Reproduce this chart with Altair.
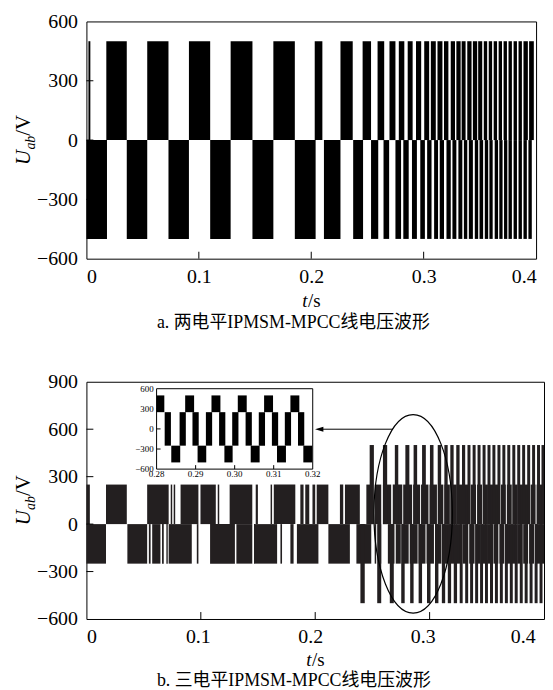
import altair as alt
import pandas as pd

# ---------------- data (times in ms, voltages in V) ----------------
X_TICKS = [0, 0.1, 0.2, 0.3, 0.4]
INNER_X = [0.1, 0.2, 0.3]
A_Y_TICKS = [-600, -300, 0, 300, 600]
A_INNER_Y = [-300, 0, 300]
B_Y_TICKS = [-600, -300, 0, 300, 600, 900]
B_INNER_Y = [-300, 0, 300, 600]

# panel a: two-level, blocks switching 0 <-> +500 / 0 <-> -500
A_LEVEL = 500
a_pos_start = [1.8, 17.7, 54.1, 91.2, 128.3, 166.3, 203.1, 226.0, 245.7, 259.0,
               269.6, 277.9, 285.8, 293.2, 300.5, 306.4, 312.3, 318.1, 324.1, 329.1,
               333.8, 338.8, 343.8, 348.5, 353.5, 357.9, 362.3, 366.7, 371.1, 375.5,
               380.0, 384.4, 388.8, 393.8]
a_pos_end = [3.5, 35.9, 73.0, 110.1, 147.7, 185.4, 209.9, 236.9, 253.2, 264.9,
             274.9, 282.8, 290.2, 297.8, 304.9, 310.8, 316.7, 322.0, 327.9, 332.9,
             337.3, 342.6, 347.6, 352.1, 356.5, 360.9, 365.3, 369.7, 374.1, 378.5,
             383.0, 387.4, 392.7, 398.0]
a_neg_start = [0.0, 35.9, 73.0, 110.1, 147.7, 185.4, 211.3, 237.3, 253.2, 264.3,
               274.9, 281.9, 289.6, 297.0, 303.1, 309.3, 314.3, 320.3, 325.6, 330.9,
               335.8, 340.2, 345.5, 349.7, 354.4, 358.5, 363.2, 367.3, 371.5, 375.5,
               380.0, 384.4, 388.8, 393.2]
a_neg_end = [18.3, 54.1, 91.2, 128.3, 166.3, 203.9, 226.0, 246.1, 259.6, 269.3,
             279.9, 286.7, 294.0, 301.1, 307.0, 312.8, 318.1, 324.1, 329.1, 334.4,
             338.8, 343.8, 348.5, 352.9, 357.4, 361.4, 366.2, 370.2, 374.4, 378.5,
             383.0, 387.4, 391.8, 396.2]

# panel b: three-level, inner band 0 <-> +/-250, outer bars up to +/-500
B_LEVEL1 = 250
B_LEVEL2 = 500
b_p1_start = [0.0, 17.1, 53.1, 73.7, 76.3, 82.3, 99.7, 114.8, 125.2, 148.0,
              161.0, 163.8, 187.0, 191.3, 197.6, 201.3, 221.6, 226.0, 244.7, 252.0,
              259.2, 267.8, 276.9, 285.6, 292.5, 299.9, 307.3, 312.9, 318.5, 324.6,
              330.2, 335.9, 341.5, 346.7, 351.9, 357.1, 362.3, 367.5, 372.7, 377.9,
              383.1, 388.3, 393.5]
b_p1_end = [3.0, 35.3, 71.9, 75.0, 77.6, 97.9, 113.1, 116.1, 145.0, 149.9,
            162.3, 182.6, 189.8, 194.8, 200.0, 211.5, 224.5, 239.0, 250.5, 257.7,
            266.4, 276.1, 284.7, 291.7, 299.0, 306.4, 312.0, 317.7, 323.7, 329.4,
            335.0, 340.6, 345.8, 351.0, 356.2, 361.4, 366.6, 371.8, 377.0, 382.3,
            387.4, 392.6, 400.0]
b_n1_start = [0.0, 35.8, 54.6, 57.5, 66.1, 69.9, 71.9, 96.5, 108.1, 131.1,
              146.5, 169.6, 178.3, 184.0, 211.5, 236.0, 252.0, 254.8, 263.5, 270.4,
              275.6, 282.6, 290.3, 297.3, 304.7, 311.2, 317.2, 323.3, 328.9, 334.6,
              340.2, 345.4, 350.6, 355.8, 361.0, 366.2, 371.4, 376.6, 381.8, 387.0,
              392.2]
b_n1_end = [17.1, 53.1, 56.1, 64.7, 67.6, 71.1, 92.1, 97.9, 129.8, 145.0,
            166.7, 171.0, 181.1, 202.8, 230.3, 249.0, 253.3, 257.7, 269.3, 274.8,
            281.7, 289.5, 296.4, 303.8, 310.3, 316.4, 322.4, 328.1, 333.7, 339.3,
            344.5, 349.7, 354.9, 360.1, 365.3, 370.5, 375.7, 380.9, 386.1, 391.3,
            400.0]
b_p2_start = [247.6, 259.2, 269.6, 278.8, 286.0, 293.4, 300.3, 307.1, 312.9, 318.1,
              323.3, 328.3, 333.1, 337.6, 341.9, 346.3, 350.6, 354.9, 359.3, 363.6,
              367.9, 372.3, 376.6, 380.9, 385.3, 389.6, 393.9, 397.8]
b_p2_end = [251.3, 262.9, 272.6, 282.3, 289.1, 296.7, 303.4, 310.1, 315.8, 321.0,
            326.2, 331.1, 335.7, 340.2, 344.5, 348.9, 353.2, 357.5, 361.9, 366.2,
            370.5, 374.9, 379.2, 383.5, 387.9, 392.2, 396.5, 400.0]
b_n2_start = [239.5, 254.2, 265.2, 275.2, 283.0, 290.4, 297.7, 304.7, 310.7, 315.9,
              321.1, 326.3, 331.1, 335.4, 339.8, 344.1, 348.4, 352.8, 357.1, 361.4,
              365.8, 370.1, 374.4, 378.8, 383.1, 387.4, 391.8, 396.1]
b_n2_end = [243.3, 257.7, 268.7, 278.2, 286.0, 293.4, 300.8, 307.7, 313.6, 318.8,
            324.0, 328.9, 333.7, 338.0, 342.4, 346.7, 351.0, 355.4, 359.7, 364.0,
            368.4, 372.7, 377.0, 381.4, 385.7, 390.0, 394.4, 398.7]

# inset (0.28 s - 0.32 s), times in s
INSET_X_TICKS = [0.28, 0.29, 0.30, 0.31, 0.32]
INSET_X_LABELS = ["0.28", "0.29", "0.30", "0.31", "0.32"]
INSET_Y_TICKS = [-600, -300, 0, 300, 600]
INSET_Y_LABELS = ["\u2212600", "\u2212300", "0", "300", "600"]
INSET_INNER_Y = [-300, 0, 300]
INSET_INNER_X = [0.29, 0.30, 0.31]
in_peak_start = [0.28000, 0.28732, 0.29406, 0.30080, 0.30754, 0.31428]
in_peak_end = [0.28198, 0.28961, 0.29635, 0.30309, 0.30983, 0.31657]
in_valley_start = [0.28376, 0.29050, 0.29737, 0.30411, 0.31085, 0.31759]
in_valley_end = [0.28605, 0.29272, 0.29948, 0.30640, 0.31314, 0.31988]
in_cross_start = [0.28207, 0.28589, 0.28919, 0.29263, 0.29601, 0.29937, 0.30280,
                  0.30618, 0.30954, 0.31285, 0.31623]
in_cross_end = [0.28367, 0.28749, 0.29079, 0.29423, 0.29761, 0.30097, 0.30440,
                0.30778, 0.31114, 0.31445, 0.31783]

# annotation: ellipse around the zoomed region and arrow to inset
ELLIPSE_T, ELLIPSE_V = 0.2856, 65
ARROW_T0, ARROW_T1, ARROW_V = 0.2045, 0.268, 600
ARROW_HEAD_T = 0.2035

CAPTION_A = "a. 两电平IPMSM-MPCC线电压波形"
CAPTION_B = "b. 三电平IPMSM-MPCC线电压波形"

# ---------------- helpers ----------------
SERIF = "Liberation Serif, Times New Roman, serif"
CAP_FONT = "Liberation Serif, Times New Roman, Noto Sans CJK SC, serif"
W_A, W_B, H = 453, 461, 239
COLOR_A = "#000000"
COLOR_B = "#231f20"


def blocks(starts, ends, lo, hi, scale=1000.0):
    return pd.DataFrame({
        "t0": [s / scale for s in starts],
        "t1": [e / scale for e in ends],
        "v0": [lo] * len(starts),
        "v1": [hi] * len(starts),
    })


x_label_expr = "datum.value == 0 ? '0' : format(datum.value, '.1f')"
y_label_expr = "replace(format(datum.value, 'd'), '-', '\u2212')"


def text1(s, **kw):
    return alt.Chart(pd.DataFrame({"s": [s]})).mark_text(**kw)


def titles(width, ts_y):
    mid = H / 2
    yt_x = -57
    u = text1("U", angle=270, align="left", baseline="alphabetic", font=SERIF,
              fontSize=21, fontStyle="italic", dx=-25, color="black").encode(
        text="s:N", x=alt.value(yt_x), y=alt.value(mid))
    ab = text1("ab", angle=270, align="left", baseline="alphabetic", font=SERIF,
               fontSize=14, fontStyle="italic", dx=-9.6, dy=5, color="black").encode(
        text="s:N", x=alt.value(yt_x), y=alt.value(mid))
    v = text1("/V", angle=270, align="left", baseline="alphabetic", font=SERIF,
              fontSize=21, dx=4.4, color="black").encode(
        text="s:N", x=alt.value(yt_x), y=alt.value(mid))
    t = text1("t", align="left", baseline="alphabetic", font=SERIF, fontSize=19,
              fontStyle="italic", dx=-9, color="black").encode(
        text="s:N", x=alt.value(width / 2), y=alt.value(ts_y))
    s = text1("/s", align="left", baseline="alphabetic", font=SERIF, fontSize=19,
              dx=-3.2, color="black").encode(
        text="s:N", x=alt.value(width / 2), y=alt.value(ts_y))
    return [u, ab, v, t, s]


def caption(txt, cap_y):
    return text1(txt, align="left", baseline="alphabetic", font=CAP_FONT,
                 fontSize=18, color="black").encode(
        text="s:N", x=alt.value(71), y=alt.value(cap_y))


def main_layers(df, color, xs, ys, yticks, inner_y, label_offset):
    rects = alt.Chart(df).mark_rect(color=color).encode(
        x=alt.X("t0:Q", scale=xs,
                axis=alt.Axis(values=X_TICKS, labelExpr=x_label_expr, title=None,
                              labelOffset=label_offset)),
        x2="t1:Q",
        y=alt.Y("v0:Q", scale=ys,
                axis=alt.Axis(values=yticks, labelExpr=y_label_expr, title=None)),
        y2="v1:Q",
    )
    ytk = alt.Chart(pd.DataFrame({"v": inner_y})).mark_point(
        shape="M0,0L1,0", size=196, color="black", strokeWidth=1, opacity=1).encode(
        x=alt.value(0), y=alt.Y("v:Q", scale=ys))
    xtk = alt.Chart(pd.DataFrame({"t": INNER_X})).mark_point(
        shape="M0,0L0,-1", size=196, color="black", strokeWidth=1, opacity=1).encode(
        x=alt.X("t:Q", scale=xs), y=alt.value(H))
    return [rects, ytk, xtk]


# ---------------- panel a ----------------
xs_a = alt.Scale(domain=[0, 0.4], nice=False, zero=False)
ys_a = alt.Scale(domain=[-600, 600], nice=False, zero=False)
df_a = pd.concat([
    blocks(a_pos_start, a_pos_end, 0, A_LEVEL),
    blocks(a_neg_start, a_neg_end, -A_LEVEL, 0),
], ignore_index=True)

panel_a = alt.layer(
    *main_layers(df_a, COLOR_A, xs_a, ys_a, A_Y_TICKS, A_INNER_Y, 0),
    *titles(W_A, H + 49), caption(CAPTION_A, H + 70),
).properties(width=W_A, height=H)

# ---------------- panel b ----------------
xs_b = alt.Scale(domain=[0, 0.4], nice=False, zero=False)
ys_b = alt.Scale(domain=[-600, 900], nice=False, zero=False)
df_b = pd.concat([
    blocks(b_p1_start, b_p1_end, 0, B_LEVEL1),
    blocks(b_n1_start, b_n1_end, -B_LEVEL1, 0),
    blocks(b_p2_start, b_p2_end, 0, B_LEVEL2),
    blocks(b_n2_start, b_n2_end, -B_LEVEL2, 0),
], ignore_index=True)

# the printed tick labels of panel b sit slightly left of their ticks
b_label_offset = {
    "condition": [
        {"test": "datum.value > 0.35", "value": -9},
        {"test": "datum.value > 0.25", "value": -7},
        {"test": "datum.value > 0.15", "value": -5},
        {"test": "datum.value > 0.05", "value": -3},
    ],
    "value": 0,
}

ellipse = alt.Chart(pd.DataFrame({"t": [ELLIPSE_T], "v": [ELLIPSE_V]})).mark_point(
    shape="M-0.395,0A0.395,1,0,1,0,0.395,0A0.395,1,0,1,0,-0.395,0",
    size=40000, color="black", strokeWidth=1.2, opacity=1, filled=False).encode(
    x=alt.X("t:Q", scale=xs_b), y=alt.Y("v:Q", scale=ys_b))
arrow_line = alt.Chart(pd.DataFrame({"t0": [ARROW_T0], "t1": [ARROW_T1], "v": [ARROW_V]})).mark_rule(
    color="black", strokeWidth=1).encode(
    x=alt.X("t0:Q", scale=xs_b), x2="t1:Q", y=alt.Y("v:Q", scale=ys_b))
arrow_head = alt.Chart(pd.DataFrame({"t": [ARROW_HEAD_T], "v": [ARROW_V]})).mark_point(
    shape="M-1,0L1,-0.6L1,0.6Z", size=70, color="black", filled=True, opacity=1).encode(
    x=alt.X("t:Q", scale=xs_b), y=alt.Y("v:Q", scale=ys_b))

main_b = alt.layer(
    *main_layers(df_b, COLOR_B, xs_b, ys_b, B_Y_TICKS, B_INNER_Y, b_label_offset),
    ellipse, arrow_line, arrow_head,
    *titles(W_B, H + 47), caption(CAPTION_B, H + 67),
)

# inset with its own scales
xs_i = alt.Scale(domain=[0.28, 0.32], range=[70.7, 228], nice=False, zero=False)
ys_i = alt.Scale(domain=[-600, 600], range=[88, 7], nice=False, zero=False)
df_i = pd.concat([
    blocks(in_peak_start, in_peak_end, 250, 500, scale=1.0),
    blocks(in_valley_start, in_valley_end, -500, -250, scale=1.0),
    blocks(in_cross_start, in_cross_end, -250, 250, scale=1.0),
], ignore_index=True)

inset_frame = alt.Chart(pd.DataFrame({"t0": [0.28], "t1": [0.32], "v0": [-600], "v1": [600]})).mark_rect(
    fill="white", stroke="black", strokeWidth=1).encode(
    x=alt.X("t0:Q", scale=xs_i, axis=None), x2="t1:Q",
    y=alt.Y("v0:Q", scale=ys_i, axis=None), y2="v1:Q")
inset_rects = alt.Chart(df_i).mark_rect(color="black").encode(
    x=alt.X("t0:Q", scale=xs_i, axis=None), x2="t1:Q",
    y=alt.Y("v0:Q", scale=ys_i, axis=None), y2="v1:Q")
inset_ytk = alt.Chart(pd.DataFrame({"v": INSET_INNER_Y, "t": [0.28] * 3})).mark_point(
    shape="M0,0L1,0", size=64, color="black", strokeWidth=1, opacity=1).encode(
    x=alt.X("t:Q", scale=xs_i, axis=None), y=alt.Y("v:Q", scale=ys_i, axis=None))
inset_xtk = alt.Chart(pd.DataFrame({"t": INSET_INNER_X, "v": [-600] * 3})).mark_point(
    shape="M0,0L0,-1", size=64, color="black", strokeWidth=1, opacity=1).encode(
    x=alt.X("t:Q", scale=xs_i, axis=None), y=alt.Y("v:Q", scale=ys_i, axis=None))
inset_ylab = alt.Chart(pd.DataFrame({"v": INSET_Y_TICKS, "lab": INSET_Y_LABELS,
                                     "t": [0.28] * 5})).mark_text(
    align="right", baseline="middle", dx=-3, font=SERIF, fontSize=9, color="black").encode(
    x=alt.X("t:Q", scale=xs_i, axis=None), y=alt.Y("v:Q", scale=ys_i, axis=None), text="lab:N")
inset_xlab = alt.Chart(pd.DataFrame({"t": INSET_X_TICKS, "lab": INSET_X_LABELS,
                                     "v": [-600] * 5})).mark_text(
    align="center", baseline="top", dy=1, font=SERIF, fontSize=9, color="black").encode(
    x=alt.X("t:Q", scale=xs_i, axis=None), y=alt.Y("v:Q", scale=ys_i, axis=None), text="lab:N")

inset = alt.layer(inset_frame, inset_rects, inset_ytk, inset_xtk, inset_ylab, inset_xlab)

panel_b = alt.layer(main_b, inset).resolve_scale(
    x="independent", y="independent").properties(width=W_B, height=H)

chart = alt.vconcat(panel_a, panel_b, spacing=38).properties(
    padding={"left": 4, "top": 0, "right": 0, "bottom": 0}
).configure_view(
    stroke="black", strokeWidth=1
).configure_axis(
    domain=False, ticks=False, grid=False,
    labelFont=SERIF, labelFontSize=20, labelColor="black",
    labelPadding=9,
).configure_axisX(labelPadding=8)

chart.save("out.html", embed_options={"renderer": "svg", "actions": False})
